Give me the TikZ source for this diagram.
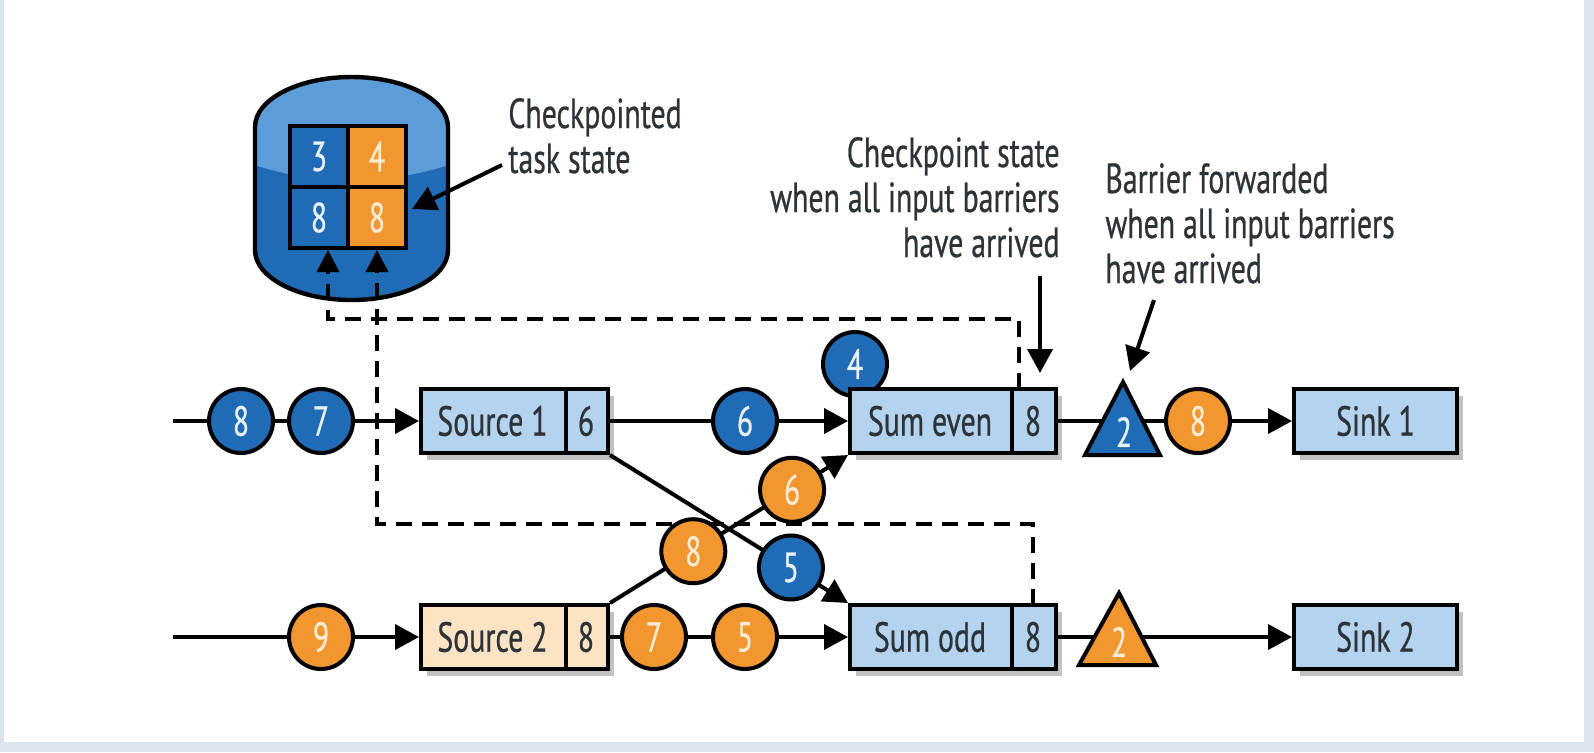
\documentclass[tikz,border=0pt]{standalone}
\usepackage{fontspec}
\setmainfont[FakeStretch=0.71,FakeBold=0.6]{PT Sans}
\usetikzlibrary{arrows.meta,shadows,calc}
\definecolor{pagebg}{HTML}{DDE5EC}
\definecolor{dblue}{HTML}{1F6BB5}
\definecolor{lblue}{HTML}{B3D3EE}
\definecolor{orng}{HTML}{F2962F}
\definecolor{peach}{HTML}{FCE3C4}
\definecolor{cylhi}{HTML}{5C9DD9}
\definecolor{txt}{HTML}{2E3338}
\definecolor{numtxt}{HTML}{E8F0F8}
\definecolor{onumtxt}{HTML}{FBEBD2}
\newcommand\lbl{\fontsize{21}{22.5}\selectfont}
\pgfdeclarelayer{bg}
\pgfdeclarelayer{lines}
\pgfsetlayers{bg,lines,main}
\begin{document}
\begin{tikzpicture}[x=0.5pt,y=-0.5pt,
  conn/.style={line width=2pt,-{Triangle[length=12pt,width=12.5pt]}},
  plain/.style={line width=2pt},
  dashline/.style={line width=1.8pt,dash pattern=on 8pt off 5pt,-{Triangle[length=11pt,width=11pt]}},
  box/.style={draw=black,line width=2pt,minimum height=32pt,inner sep=0pt,
    drop shadow={shadow xshift=3pt,shadow yshift=-3.5pt,opacity=0.3,fill=black!80}},
  boxtext/.style={font=\lbl,text=txt,inner sep=0pt},
  bcirc/.style={circle,draw=black,line width=2pt,fill=dblue,minimum size=32pt,inner sep=0pt,text=numtxt,font=\lbl},
  ocirc/.style={circle,draw=black,line width=2pt,fill=orng,minimum size=32pt,inner sep=0pt,text=onumtxt,font=\lbl},
  cell/.style={draw=black,line width=2pt,minimum width=29pt,minimum height=30.5pt,inner sep=0pt,font=\lbl},
  label/.style={font=\lbl,text=txt,inner sep=0pt}
]
\begin{pgfonlayer}{bg}
\fill[pagebg] (0,0) rectangle (1594,752);
\fill[white] (4,0) rectangle (1584,742);
\end{pgfonlayer}
\useasboundingbox (0,0) rectangle (1594,752);

% ---- storage cylinder
\begin{scope}
\clip (255,127) arc[start angle=180,end angle=0,x radius=48.25pt,y radius=25pt]
  -- (448,250) arc[start angle=0,end angle=-180,x radius=48.25pt,y radius=25pt] -- cycle;
\fill[dblue] (250,70) rectangle (455,305);
\fill[cylhi] (351.5,60) ellipse[x radius=100pt,y radius=60pt];
\end{scope}
\draw[line width=2.2pt] (255,127) arc[start angle=180,end angle=0,x radius=48.25pt,y radius=25pt]
  -- (448,250) arc[start angle=0,end angle=-180,x radius=48.25pt,y radius=25pt] -- cycle;

\node[cell,fill=dblue,text=numtxt] (g1) at (319,156.5) {3};
\node[cell,fill=orng,text=onumtxt] (g2) at (377,156.5) {4};
\node[cell,fill=dblue,text=numtxt] (g3) at (319,217.5) {8};
\node[cell,fill=orng,text=onumtxt] (g4) at (377,217.5) {8};

% ---- boxes
\node[bcirc] (b4) at (855,364) {4};
\node[box,fill=lblue,minimum width=93.5pt] (src1) at (514.5,421) {};
\node[box,fill=peach,minimum width=93.5pt] (src2) at (514.5,637) {};
\node[box,fill=lblue,minimum width=103pt] (sume) at (953,421) {};
\node[box,fill=lblue,minimum width=103pt] (sumo) at (953,637) {};
\node[box,fill=lblue,minimum width=81.5pt] (sink1) at (1375.5,421) {};
\node[box,fill=lblue,minimum width=81.5pt] (sink2) at (1375.5,637) {};
\draw[plain] ($(src1.north east)+(-44,0)$) -- ($(src1.south east)+(-44,0)$);
\draw[plain] ($(src2.north east)+(-44,0)$) -- ($(src2.south east)+(-44,0)$);
\draw[plain] ($(sume.north east)+(-46,0)$) -- ($(sume.south east)+(-46,0)$);
\draw[plain] ($(sumo.north east)+(-46,0)$) -- ($(sumo.south east)+(-46,0)$);
\node[boxtext] (t1) at (492.5,421) {Source 1};
\node[boxtext] (n1) at (586,421) {6};
\node[boxtext] (t2) at (492.5,637) {Source 2};
\node[boxtext] (n2) at (586,637) {8};
\node[boxtext] (t3) at (930,421) {Sum even};
\node[boxtext] (n3) at (1033,421) {8};
\node[boxtext] (t4) at (930,637) {Sum odd};
\node[boxtext] (n4) at (1033,637) {8};
\node[boxtext] at (sink1) {Sink 1};
\node[boxtext] at (sink2) {Sink 2};

% ---- dashed checkpoint paths
\coordinate (d1) at (1019,389);
\coordinate (d2) at (1033,605);
\draw[dashline] (d1) -- (1019,319) -- (328,319) -- (g3.south -| 328,0);
\draw[dashline] (d2) -- (1033,524) -- (377,524) -- (g4.south);

% ---- connectors
\coordinate (in1) at (173,421);
\coordinate (in2) at (173,637);
\begin{pgfonlayer}{lines}
\draw[conn] (in1) -- (src1.west);
\draw[conn] (src1.east) -- (sume.west);
\draw[conn] (src1.south east) -- (sumo.north west);
\draw[conn] (src2.north east) -- (sume.south west);
\draw[conn] (sume.east) -- (sink1.west);
\draw[conn] (in2) -- (src2.west);
\draw[conn] (src2.east) -- (sumo.west);
\draw[conn] (sumo.east) -- (sink2.west);
\end{pgfonlayer}

% ---- records
\node[bcirc] (b8) at (241,421) {8};
\node[bcirc] (b7) at (321,421) {7};
\node[bcirc] (b6) at (745,421) {6};
\node[bcirc] (b5) at ($(src1.south east)!0.76!(sumo.north west)$) {5};
\node[ocirc] (o8) at ($(src2.north east)!0.35!(sume.south west)$) {8};
\node[ocirc] (o6) at ($(src2.north east)!0.765!(sume.south west)$) {6};
\node[ocirc] (o8b) at (1198,421) {8};
\node[ocirc] (o9) at (321,637) {9};
\node[ocirc] (o7) at (654,637) {7};
\node[ocirc] (o5) at (745,637) {5};

% ---- barriers
\filldraw[fill=dblue,line width=2pt,line join=miter] (1123,382) -- (1160,455) -- (1085,455) -- cycle;
\node[boxtext,text=numtxt] (tri1) at (1124,432) {2};
\filldraw[fill=orng,line width=2pt,line join=miter] (1119,593) -- (1156,665) -- (1079,665) -- cycle;
\node[boxtext,text=onumtxt] (tri2) at (1119,642) {2};

% ---- annotations
\node[label,anchor=base west,align=left] (la) at (508,173) {Checkpointed\\task state};
\node[label,anchor=base east,align=right] (lb) at (1060,257) {Checkpoint state\\when all input barriers\\have arrived};
\node[label,anchor=base west,align=left] (lc) at (1105,283) {Barrier forwarded\\when all input barriers\\have arrived};
\coordinate (a1s) at (502,165);
\coordinate (a1e) at (412,209);
\coordinate (a2s) at (1040,276);
\coordinate (a2e) at (1040,373);
\coordinate (a3s) at (1154,300);
\coordinate (a3e) at (1130,371);
\draw[conn] (a1s) -- (a1e);
\draw[conn] (a2s) -- (a2e);
\draw[conn] (a3s) -- (a3e);
\end{tikzpicture}
\end{document}
